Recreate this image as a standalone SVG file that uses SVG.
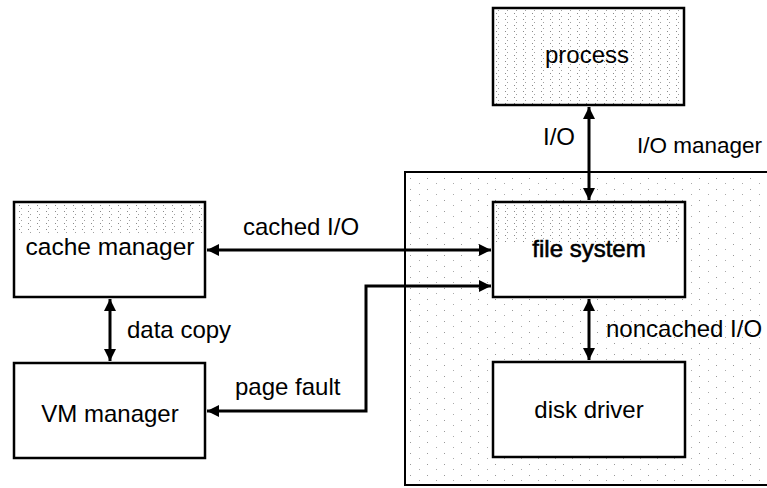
<svg xmlns="http://www.w3.org/2000/svg" width="767" height="488" viewBox="0 0 767 488">
  <defs>
    <style>
      .box { fill: none; stroke: #000; stroke-width: 2.5; }
      .txt { font-family: "Liberation Sans", Arial, sans-serif; font-size: 24px; fill: #000; }
      .mid { text-anchor: middle; }
      .conn { fill: none; stroke: #000; stroke-width: 3; }
    </style>
    <pattern id="stip" width="9" height="6" patternUnits="userSpaceOnUse">
      <rect x="1" y="1" width="1" height="1" fill="#8a8a8a"/>
      <rect x="3" y="4" width="1" height="1" fill="#a0a0a0"/>
    </pattern>
    <pattern id="stip2" width="17" height="11" patternUnits="userSpaceOnUse">
      <rect x="2" y="2" width="1" height="1" fill="#999"/>
      <rect x="11" y="7" width="1" height="1" fill="#aaa"/>
    </pattern>
    <marker id="ah" viewBox="0 0 10 10" refX="10" refY="5" markerWidth="4" markerHeight="4" orient="auto-start-reverse" markerUnits="strokeWidth">
      <path d="M0,0 L10,5 L0,10 z" fill="#000"/>
    </marker>
  </defs>

  <g id="io-manager">
    <rect x="405" y="172" width="375" height="313" fill="url(#stip2)" stroke="#000" stroke-width="2"/>
    <text class="txt" x="637" y="153" style="font-size:22.5px">I/O manager</text>
  </g>

  <g id="process">
    <rect class="box" x="493" y="8" width="191" height="97" style="fill:url(#stip)"/>
    <text class="txt mid" x="587" y="63">process</text>
  </g>

  <g id="file-system">
    <rect class="box" x="493" y="202" width="192" height="95" style="fill:#fff"/>
    <rect x="495" y="204" width="188" height="40" fill="url(#stip)"/>
    <text class="txt mid" x="589" y="257" style="stroke:#000;stroke-width:0.6">file system</text>
  </g>

  <g id="disk-driver">
    <rect class="box" x="493" y="362" width="192" height="95" style="fill:#fff"/>
    <text class="txt mid" x="589" y="418">disk driver</text>
  </g>

  <g id="cache-manager">
    <rect class="box" x="14" y="202" width="191" height="95" style="fill:#fff"/>
    <rect x="16" y="204" width="187" height="30" fill="url(#stip)"/>
    <text class="txt mid" x="110" y="255" style="font-size:24.5px">cache manager</text>
  </g>

  <g id="vm-manager">
    <rect class="box" x="14" y="363" width="191" height="95" style="fill:#fff"/>
    <text class="txt mid" x="110" y="422">VM manager</text>
  </g>

  <g id="connectors">
    <line class="conn" x1="589" y1="107" x2="589" y2="200" marker-start="url(#ah)" marker-end="url(#ah)"/>
    <line class="conn" x1="207" y1="250" x2="491" y2="250" marker-start="url(#ah)" marker-end="url(#ah)"/>
    <line class="conn" x1="110" y1="299" x2="110" y2="361" marker-start="url(#ah)" marker-end="url(#ah)"/>
    <polyline class="conn" points="207,411 366,411 366,286 491,286" marker-start="url(#ah)" marker-end="url(#ah)"/>
    <line class="conn" x1="589" y1="299" x2="589" y2="360" marker-start="url(#ah)" marker-end="url(#ah)"/>
  </g>

  <g id="labels">
    <text class="txt" x="543" y="145">I/O</text>
    <text class="txt" x="243" y="235">cached I/O</text>
    <text class="txt" x="127" y="338">data copy</text>
    <text class="txt" x="235" y="395">page fault</text>
    <text class="txt" x="606" y="337">noncached I/O</text>
  </g>
</svg>
